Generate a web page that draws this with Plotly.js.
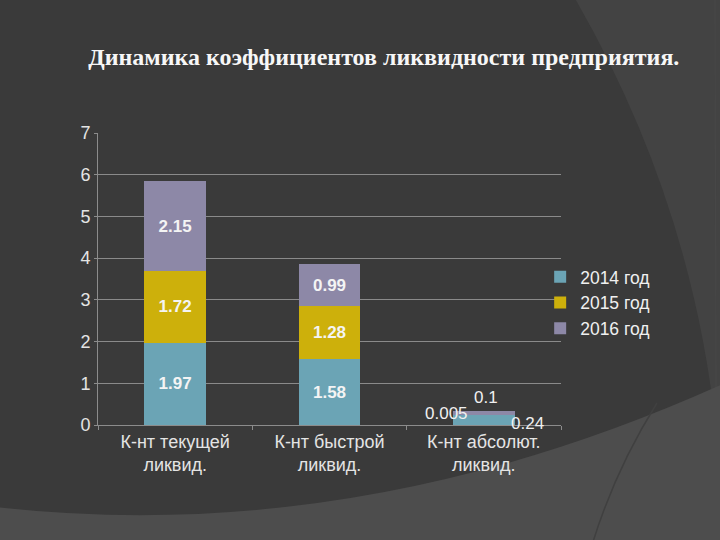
<!DOCTYPE html>
<html>
<head>
<meta charset="utf-8">
<script src="https://cdn.plot.ly/plotly-3.0.1.min.js"></script>
<style>
html,body{margin:0;padding:0;background:#3a3a3a;}
#chart{width:720px;height:540px;}
</style>
</head>
<body>
<div id="chart"></div>
<script>
// ---- data ----
const categories = ["К-нт текущей<br>ликвид.", "К-нт быстрой<br>ликвид.", "К-нт абсолют.<br>ликвид."];
const seriesNames = ["2014 год", "2015 год", "2016 год"];
const v2014 = [1.97, 1.58, 0.24];
const v2015 = [1.72, 1.28, 0.005];
const v2016 = [2.15, 0.99, 0.1];
const yTicks = [0, 1, 2, 3, 4, 5, 6, 7];
const titleText = "Динамика коэффициентов ликвидности предприятия.";

// ---- styles ----
const colors = ["#6ba4b5", "#cdb00b", "#8d88a7"];
const M = {l: 98, r: 159, t: 133, b: 115};
const W = 720 - M.l - M.r, H = 540 - M.t - M.b;
const px = X => ((X - M.l) / W).toFixed(4);
const py = Y => ((M.t + H - Y) / H).toFixed(4);
const pt = (X, Y) => px(X) + "," + py(Y);

const series = [v2014, v2015, v2016];
// labels inside bars for the first two categories; the third gets outside annotations
const traces = series.map((vals, k) => ({
  type: "bar",
  name: seriesNames[k],
  x: categories,
  y: vals,
  width: 0.4,
  marker: {color: colors[k], line: {width: 0}},
  text: vals.map((v, i) => i < 2 ? String(v) : ""),
  textposition: "inside",
  insidetextanchor: "middle",
  constraintext: "none",
  textangle: 0,
  textfont: {family: "Liberation Sans, Arial, sans-serif", size: 17, color: "#f4f4f4", weight: "bold"},
  hoverinfo: "skip"
}));

const c3 = categories[2];
const annFont = {family: "Liberation Sans, Arial, sans-serif", size: 17, color: "#f0f0f0"};
const annotations = [
  {x: c3, y: v2014[2] + v2015[2], text: String(v2015[2]), xshift: -37, yshift: 1},
  {x: c3, y: v2014[2], text: String(v2014[2]), xshift: 44, yshift: -9},
  {x: c3, y: v2014[2] + v2015[2] + v2016[2], text: String(v2016[2]), xshift: 2, yshift: 13}
].map(a => Object.assign(a, {xref: "x", yref: "y", showarrow: false, font: annFont, xanchor: "center", yanchor: "middle"}));

// background decoration (slide arcs)
const shapes = [
  {type: "path", xref: "paper", yref: "paper", layer: "below", line: {width: 0},
   fillcolor: "#434343",
   path: "M" + pt(573, -5) + " Q" + pt(692, 200) + " " + pt(716, 430) + " L" + pt(725, 430) + " L" + pt(725, -5) + " Z"},
  {type: "path", xref: "paper", yref: "paper", layer: "below", line: {color: "#474747", width: 1.2},
   path: "M" + pt(715, -5) + " L" + pt(716, 395)},
  {type: "path", xref: "paper", yref: "paper", layer: "below", line: {width: 0},
   fillcolor: "#4d4d4d",
   path: "M" + pt(-5, 507) + " Q" + pt(360, 548) + " " + pt(725, 383) + " L" + pt(725, 545) + " L" + pt(-5, 545) + " Z"},
  {type: "path", xref: "paper", yref: "paper", layer: "below", line: {color: "#404040", width: 1.5},
   path: "M" + pt(657, 403) + " Q" + pt(615, 470) + " " + pt(592, 545)}
];

const layout = {
  width: 720, height: 540,
  margin: M,
  paper_bgcolor: "#3a3a3a",
  plot_bgcolor: "rgba(0,0,0,0)",
  barmode: "stack",
  title: {
    text: titleText,
    x: 0.533, xanchor: "center", y: 0.896, yanchor: "middle",
    font: {family: "Liberation Serif, Times New Roman, serif", size: 24, color: "#f7f7f7", weight: "bold"}
  },
  xaxis: {
    type: "category",
    showgrid: false,
    showline: true, linecolor: "#8c8c8c", linewidth: 1,
    ticks: "outside", tickson: "boundaries", ticklen: 4, tickcolor: "#8c8c8c",
    tickfont: {family: "Liberation Sans, Arial, sans-serif", size: 18, color: "#e4e4e4"},
    zeroline: false, fixedrange: true
  },
  yaxis: {
    range: [0, 7],
    tickvals: yTicks,
    showgrid: true, gridcolor: "#8a8a8a", gridwidth: 1,
    showline: true, linecolor: "#8c8c8c", linewidth: 1,
    ticks: "outside", ticklen: 3, tickcolor: "#8c8c8c",
    tickfont: {family: "Liberation Sans, Arial, sans-serif", size: 18, color: "#e4e4e4"},
    zeroline: false, fixedrange: true
  },
  legend: {
    x: 0.955, xanchor: "left", y: 0.569, yanchor: "top",
    xref: "paper", yref: "paper",
    traceorder: "normal",
    bgcolor: "rgba(0,0,0,0)",
    font: {family: "Liberation Sans, Arial, sans-serif", size: 17.5, color: "#f0f0f0"},
    itemwidth: 30
  },
  showlegend: true,
  annotations: annotations,
  shapes: shapes
};

Plotly.newPlot("chart", traces, layout, {staticPlot: true, displayModeBar: false});
</script>
</body>
</html>
